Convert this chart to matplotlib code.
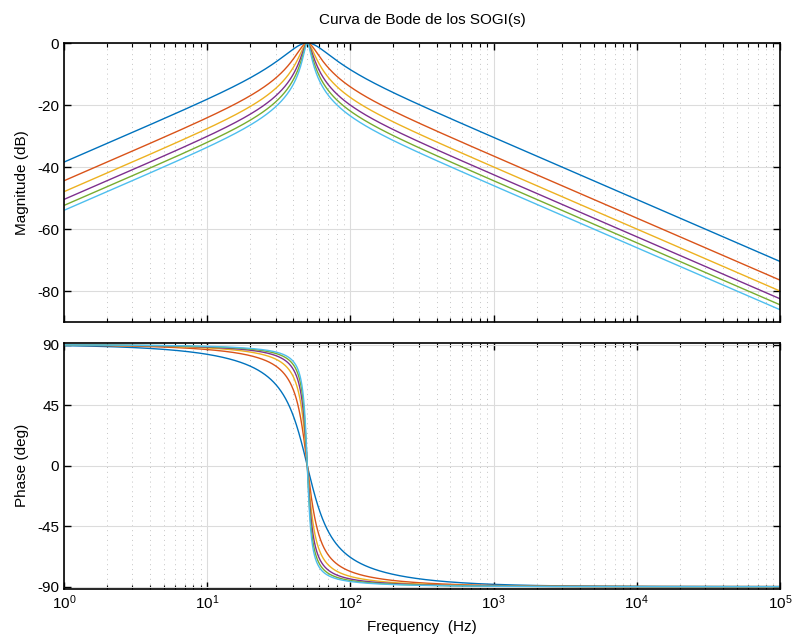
import numpy as np
import matplotlib
matplotlib.use("Agg")
from matplotlib import pyplot as plt
from matplotlib.ticker import LogLocator, NullFormatter

plt.rcParams["font.family"] = ["Liberation Sans", "DejaVu Sans"]
plt.rcParams["font.size"] = 11

# SOGI: H(s) = k*w0*s / (s^2 + k*w0*s + w0^2)
f0 = 50.0
gains = [0.6, 0.3, 0.2, 0.15, 0.12, 0.1]
colores = ["#0072BD", "#D95319", "#EDB120", "#7E2F8E", "#77AC30", "#4DBEEE"]
mag_ticks = [0, -20, -40, -60, -80]
phase_ticks = [90, 45, 0, -45, -90]

f = np.logspace(0, 5, 3000)
w0 = 2 * np.pi * f0
s = 1j * 2 * np.pi * f

fig = plt.figure(figsize=(7.92, 6.43), dpi=100)
ax1 = fig.add_axes([0.0808, 0.4992, 0.904, 0.4339])
ax2 = fig.add_axes([0.0808, 0.0845, 0.904, 0.3825])

for k, c in zip(gains, colores):
    H = k * w0 * s / (s**2 + k * w0 * s + w0**2)
    ax1.semilogx(f, 20 * np.log10(np.abs(H)), color=c, lw=1.0)
    ax2.semilogx(f, np.degrees(np.angle(H)), color=c, lw=1.0)

for ax in (ax1, ax2):
    ax.set_xlim(1, 1e5)
    ax.xaxis.set_major_locator(LogLocator(base=10, numticks=10))
    ax.xaxis.set_minor_locator(LogLocator(base=10, subs=np.arange(2, 10), numticks=20))
    ax.xaxis.set_minor_formatter(NullFormatter())
    ax.grid(True, which="major", color="#dcdcdc", lw=0.8, ls="-")
    ax.grid(True, which="minor", axis="x", color="#c4c4c4", lw=0.7, ls=(0, (1, 4)))
    ax.set_axisbelow(True)
    ax.tick_params(which="both", direction="in", top=True, right=True, colors="black", labelsize=11)
    ax.tick_params(which="major", length=5, width=1.0)
    ax.tick_params(which="minor", length=3, width=0.8)
    for sp in ax.spines.values():
        sp.set_linewidth(1.2)

ax1.set_ylim(-90, 0)
ax1.set_yticks(mag_ticks)
ax1.set_yticklabels([str(t) for t in mag_ticks])
ax1.tick_params(labelbottom=False)
ax1.set_ylabel("Magnitude (dB)", labelpad=6)
ax1.set_title("Curva de Bode de los SOGI(s)", fontsize=11, pad=14)

ax2.set_ylim(-91.5, 91.5)
ax2.set_yticks(phase_ticks)
ax2.set_yticklabels([str(t) for t in phase_ticks])
ax2.set_ylabel("Phase (deg)", labelpad=6)
ax2.set_xlabel("Frequency  (Hz)", labelpad=6)

fig.align_ylabels([ax1, ax2])
fig.savefig("out.png", dpi=100)
